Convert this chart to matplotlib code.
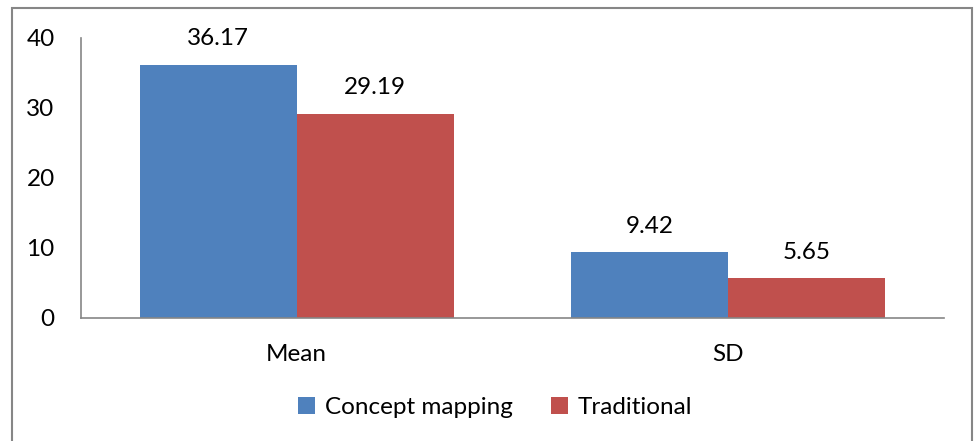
import numpy as np
import matplotlib.pyplot as plt
from matplotlib.patches import Rectangle

categories = ['Mean', 'SD']
series_names = ['Concept mapping', 'Traditional']
concept_mapping = [36.17, 9.42]
traditional = [29.19, 5.65]
colors = ['#4F81BD', '#C0504D']

plt.rcParams['font.family'] = ['Lato', 'DejaVu Sans']
fs = 17.5

fig = plt.figure(figsize=(9.75, 4.41), dpi=100)
ax = fig.add_axes([0.0831, 0.279, 0.885, 0.635])

x = np.arange(len(categories))
width = 0.364
for vals, name, color, off in zip([concept_mapping, traditional], series_names,
                                  colors, [-width / 2, width / 2]):
    bars = ax.bar(x + off, vals, width, color=color, label=name)
    for b, v in zip(bars, vals):
        ax.annotate(f'{v:.2f}', (b.get_x() + b.get_width() / 2, v),
                    xytext=(0, 11), textcoords='offset points',
                    ha='center', va='bottom', fontsize=fs)

ax.set_xlim(-0.5, 1.5)
ax.set_ylim(0, 40)
ax.set_yticks([0, 10, 20, 30, 40])
ax.set_xticks(x)
ax.set_xticklabels(categories)
ax.tick_params(axis='both', length=0, labelsize=fs)
ax.tick_params(axis='y', pad=19)
ax.tick_params(axis='x', pad=19)
for side in ['top', 'right']:
    ax.spines[side].set_visible(False)
for side in ['left', 'bottom']:
    ax.spines[side].set_color('#868686')
    ax.spines[side].set_linewidth(1.2)

ax.legend(loc='center', bbox_to_anchor=(0.48, -0.32), ncol=2, frameon=False,
          fontsize=fs, handlelength=0.7, handleheight=0.7, handletextpad=0.4,
          columnspacing=1.6)

# outer chart border
fig.patches.append(Rectangle((12 / 975, -0.05), 960 / 975, 1.05 - 8 / 441,
                             transform=fig.transFigure, fill=False,
                             edgecolor='#868686', linewidth=1.5))

fig.savefig('out.png', dpi=100)
